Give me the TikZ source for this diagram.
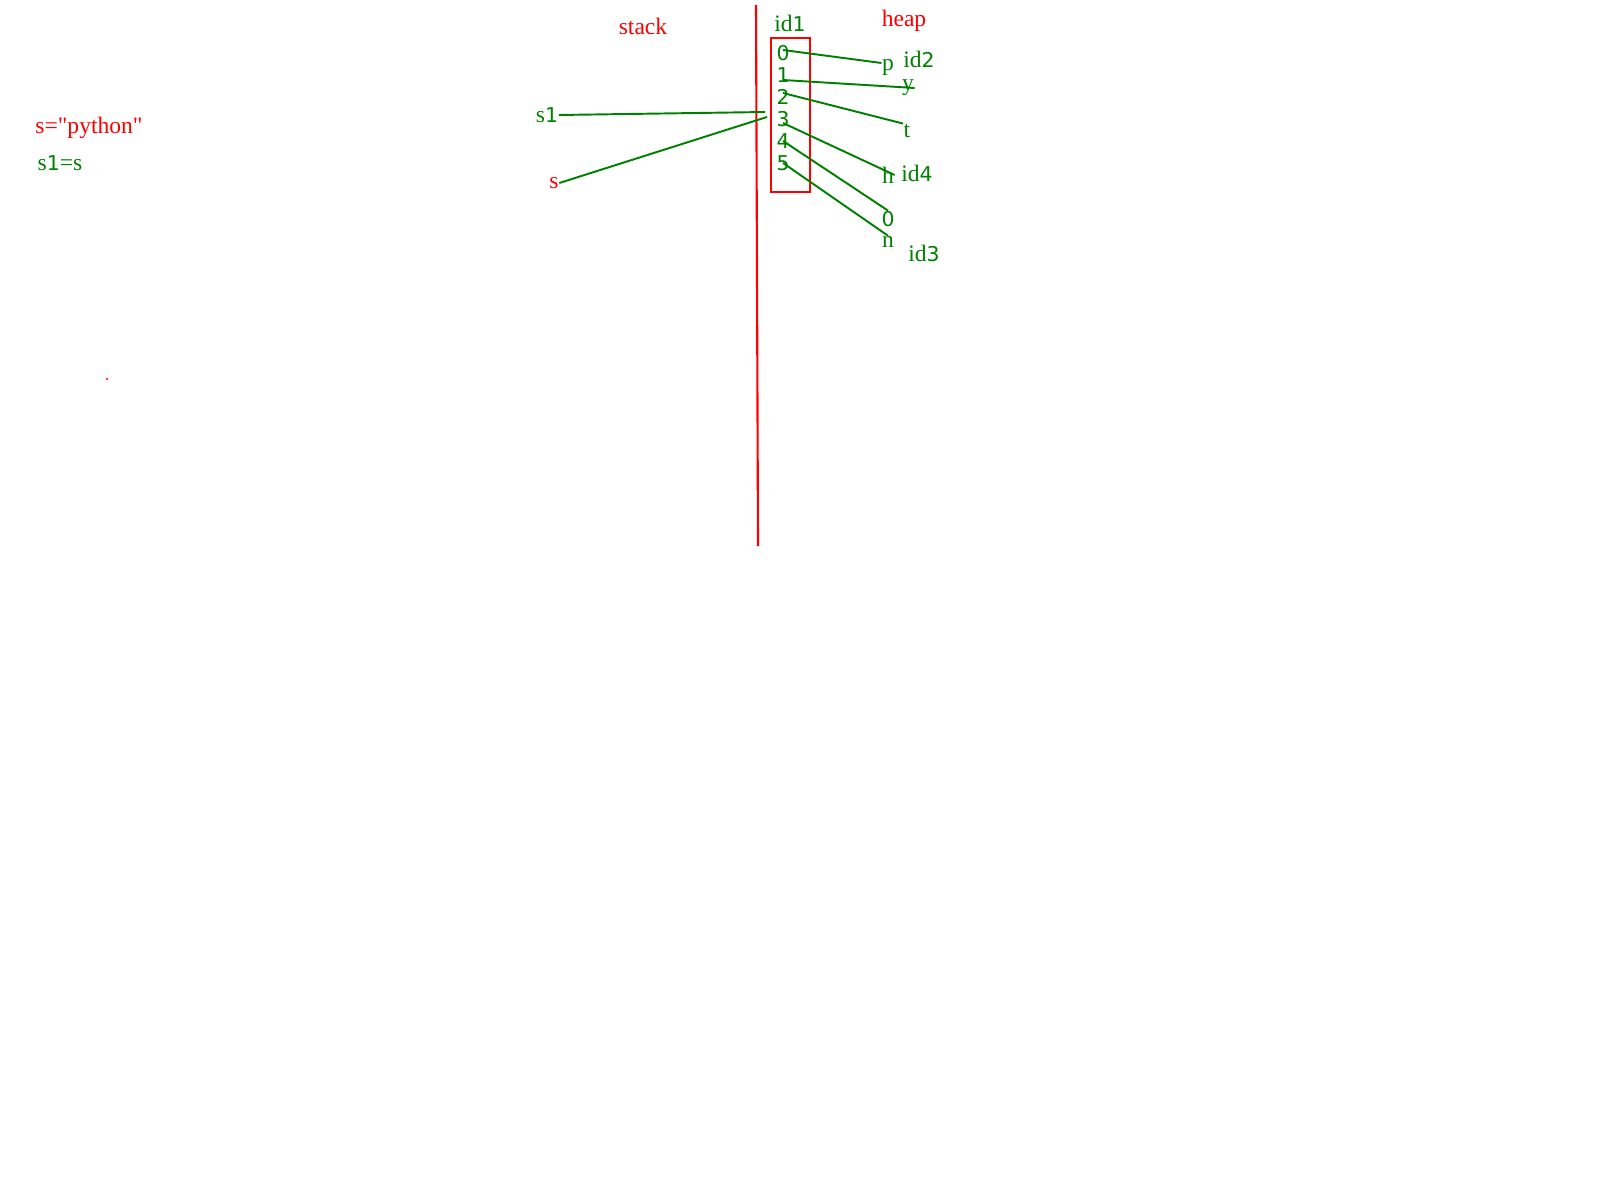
\documentclass[tikz,border=0pt]{standalone}
\usepackage{fontspec}
\setmainfont{Liberation Serif}[Ligatures=TeXOff]
\newfontfamily\digfont{DejaVu Sans}
\usepackage{xcolor}
\usetikzlibrary{positioning}
\definecolor{memgreen}{RGB}{0,128,0}
\newcommand{\dg}[1]{{\digfont\fontsize{5.8}{7}\selectfont #1}}
\tikzset{
  memtext/.style={inner sep=0pt, font=\fontsize{6.7}{8}\selectfont, text=memgreen},
  memred/.style={memtext, text=red},
  memref/.style={draw=memgreen, line width=0.55pt},
  memwall/.style={draw=red, line width=0.6pt}
}

\begin{document}
\begin{tikzpicture}[x=0.01cm, y=-0.01cm]
\useasboundingbox (0,0) rectangle (1600,1200);

% code
\node[memred] (code) at (89,128) {s="python"};
\node[memtext] (copy) at (60,163) {s\dg{1}=s};
\fill[red] (107,379) circle (0.012cm);

% stack / heap wall
\draw[memwall] (756,5) -- (758,546);
\node[memred] (stack) at (643,26) {stack};
\node[memred] (heap) at (904,21) {heap};

% the list object
\node[memtext] (id1) at (790,23) {id\dg{1}};
\node[draw=red, line width=0.6pt, minimum width=0.39cm, minimum height=1.54cm] (arr) at (790.5,115) {};
\foreach \i in {0,...,5}
  \node[memtext] (d\i) at (783,53+22*\i) {\dg{\i}};

% characters
\node[memtext] (cp) at (888,67) {p};
\node[memtext] (cy) at (908,88) {y};
\node[memtext] (ct) at (907,131) {t};
\node[memtext] (ch) at (888,175) {h};
\node[memtext] (co) at (888,219) {\dg{0}};
\node[memtext] (cn) at (888,242) {n};
\node[memtext] (id2) at (919,59) {id\dg{2}};
\node[memtext] (id4) at (917,173) {id\dg{4}};
\node[memtext] (id3) at (924,253) {id\dg{3}};

\draw[memref] ([yshift=0.03cm]d0.center) -- ([yshift=0.04cm]cp.west);
\draw[memref] ([yshift=-0.05cm]d1.center) -- (cy.east);
\draw[memref] ([yshift=0.04cm]d2.center) -- (ct.north west);
\draw[memref] ([yshift=-0.04cm]d3.center) -- (ch.east);
\draw[memref] (d4.center) -- (co.north);
\draw[memref] (d5.center) -- (cn.north);

% names on the stack
\node[memtext] (s1) at (547,115) {s\dg{1}};
\node[memred] (s) at (554,183) {s};
\coordinate (s1end) at (765,112);
\coordinate (send) at (767,117);
\draw[memref] (s1.east) -- (s1end);
\draw[memref] (s.east) -- (send);
\end{tikzpicture}
\end{document}
